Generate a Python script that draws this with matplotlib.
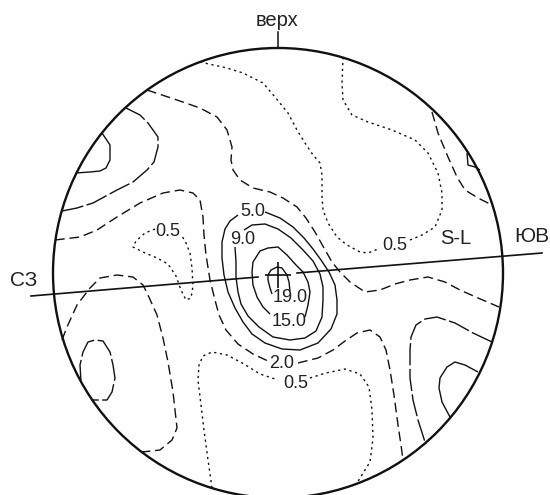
import matplotlib
matplotlib.use("Agg")
import matplotlib.pyplot as plt

plt.rcParams['font.family'] = ['Liberation Sans', 'DejaVu Sans']
plt.rcParams['lines.scale_dashes'] = False

# ---------------- data (net units, primitive circle radius = 225) ----------------
NET_RADIUS = 225

# 19.0 contour
c19_x = [-6, -8, -10, -10, -7, -1, 4, 9, 11, 12]
c19_y = [-21, -15, -7, -2, 3, 6, 5, -2, -9, -18]
# 15.0 contour
c15_x = [-8, -15, -21, -25, -26, -25, -18, -10, 0, 9, 18, 25, 30, 32, 30, 27]
c15_y = [-41, -34, -24, -12, 1, 11, 22, 25, 26, 18, 8, 1, -9, -19, -32, -44]
# 9.0 contour
c9_x = [-43, -42, -42, -40, -37, -30, -19, -5, 12, 27, 38, 44, 45, 45, 42, 35, 25, 13, 0, -13, -26, -34]
c9_y = [26, 11, -4, -19, -31, -43, -54, -64, -67, -65, -58, -44, -27, -14, -1, 12, 23, 35, 44, 49, 48, 43]
# 5.0 contours
c5a_x = [-13, 2, 15, 26, 35, 43, 51, 57, 59, 59, 53, 40, 22, 4, -13, -26, -35, -43, -50, -54, -56, -56, -53, -48, -40]
c5a_y = [61, 55, 46, 35, 24, 13, 1, -12, -27, -41, -56, -70, -77, -76, -70, -61, -49, -35, -19, -2, 15, 31, 44, 52, 58]
c5b_x = [-176, -168, -168, -172, -178, -188, -202]
c5b_y = [140, 128, 113, 105, 102, 101, 100]
c5c_x = [200, 187, 177, 169, 162, 161, 164, 172]
c5c_y = [-99, -92, -89, -94, -105, -115, -129, -144]
c5d_x = [189, 190, 197, 202]
c5d_y = [120, 108, 106, 103]
# intermediate (long-dash) contours
cL1_x = [-152, -138, -130, -120, -120, -124, -131, -145, -161, -185, -201, -216]
cL1_y = [165, 158, 150, 136, 126, 111, 103, 91, 83, 70, 65, 62]
cL2_x = [-197, -198, -195, -190, -183, -175, -168, -165, -163, -166, -171, -180, -187]
cL2_y = [-109, -92, -79, -69, -67, -68, -79, -92, -105, -119, -127, -127, -127]
cL3_x = [214, 195, 177, 159, 147, 138, 133, 132, 132, 135, 140, 147]
cL3_y = [-69, -60, -50, -44, -46, -52, -64, -77, -105, -127, -147, -169]
# 2.0 contours
c2a_x = [-223, -198, -181, -161, -138, -115, -98, -85, -78, -75, -74, -72, -68, -63, -59, -52, -40, -25, -10]
c2a_y = [33, 36, 43, 56, 70, 80, 83, 80, 73, 56, 38, 18, -7, -27, -42, -57, -71, -81, -88]
c2b_x = [20, 40, 55, 67, 79, 92, 102, 108, 112, 116, 120, 123, 125]
c2b_y = [-90, -85, -77, -68, -60, -57, -64, -77, -97, -122, -152, -172, -187]
c2c_x = [-131, -101, -78, -61, -51, -46, -47, -45, -38, -25, -8, 5, 19, 28, 37, 46, 54, 62, 72, 87, 102, 117, 132, 150, 167, 182, 200, 221]
c2c_y = [183, 173, 165, 156, 143, 126, 113, 103, 93, 85, 81, 75, 66, 55, 41, 25, 11, 1, -9, -19, -17, -11, -7, -4, -9, -17, -25, -34]
c2d_x = [-216, -211, -201, -188, -178, -161, -145, -135, -130, -121, -115, -110, -105, -101, -106, -118, -136]
c2d_y = [-67, -54, -32, -15, -5, -2, -4, -12, -22, -42, -65, -89, -119, -155, -167, -177, -179]
c2e_x = [154, 160, 170, 179, 187, 200, 214]
c2e_y = [161, 140, 116, 96, 83, 75, 68]
# 0.5 contours
c05a1_x = [-78, -51, -35, -15, -3, 10, 19, 27, 35, 42, 44, 44, 45, 50, 59, 69, 82, 90, 100]
c05a1_y = [211, 205, 200, 190, 176, 160, 143, 130, 118, 110, 98, 76, 63, 50, 36, 28, 21, 20, 24]
c05a2_x = [132, 144, 157, 164, 164, 160, 150, 137, 114, 90, 74, 65, 64, 65]
c05a2_y = [33, 38, 46, 63, 80, 100, 120, 133, 143, 151, 158, 173, 190, 215]
c05b_x = [-123, -133, -142, -145, -135, -121, -110, -102, -97, -92, -87, -85, -86, -88, -92, -96]
c05b_y = [44, 40, 32, 26, 21, 15, 9, -3, -17, -27, -25, -13, 5, 20, 30, 37]
c05c1_x = [-66, -70, -74, -77, -80, -79, -75, -66, -51, -34, -18, 0]
c05c1_y = [-215, -187, -157, -132, -107, -92, -83, -79, -82, -91, -101, -107]
c05c2_x = [32, 48, 67, 82, 91, 94, 95, 92, 79]
c05c2_y = [-105, -100, -96, -101, -114, -137, -165, -189, -210]

# contour labels
label_texts = ["19.0", "15.0", "9.0", "5.0", "2.0", "0.5", "0.5", "0.5"]
label_x = [12, 11, -35, -25.5, 4, 18, 117, -110]
label_y = [-25, -48, 34, 62, -91, -110, 28, 42]

# S-L trace and pole
sl_left_x = [-247, -20]
sl_left_y = [-23, -4]
sl_right_x = [19, 264]
sl_right_y = [0, 20]
pole_x = [0]
pole_y = [-2]
sl_name = "S-L"

# direction labels
dir_texts = ["верх", "СЗ", "ЮВ"]
dir_x = [-1, -254.5, 254]
dir_y = [253, -8, 37]
top_tick_x = [0, 0]
top_tick_y = [225, 241]

# ---------------- drawing ----------------
INK = '#111111'
styles = {
    "solid": dict(ls="-"),
    "long": dict(ls=(0, (16, 2.5))),
    "dashed": dict(ls=(0, (7, 3.5))),
    "dotted": dict(ls=(0, (1.6, 2.6))),
}
lines = [
    (c19_x, c19_y, "solid"), (c15_x, c15_y, "solid"), (c9_x, c9_y, "solid"),
    (c5a_x, c5a_y, "solid"), (c5b_x, c5b_y, "solid"), (c5c_x, c5c_y, "solid"),
    (c5d_x, c5d_y, "solid"),
    (cL1_x, cL1_y, "long"), (cL2_x, cL2_y, "long"), (cL3_x, cL3_y, "long"),
    (c2a_x, c2a_y, "dashed"), (c2b_x, c2b_y, "dashed"), (c2c_x, c2c_y, "dashed"),
    (c2d_x, c2d_y, "dashed"), (c2e_x, c2e_y, "dashed"),
    (c05a1_x, c05a1_y, "dotted"), (c05a2_x, c05a2_y, "dotted"),
    (c05b_x, c05b_y, "dotted"), (c05c1_x, c05c1_y, "dotted"),
    (c05c2_x, c05c2_y, "dotted"),
]

fig = plt.figure(figsize=(5.5, 4.95), dpi=100)
ax = fig.add_axes([0, 0, 1, 1])
ax.set_xlim(-278, 272)
ax.set_ylim(-222, 273)
ax.set_aspect('equal')
ax.axis('off')

ax.add_patch(plt.Circle((0, 0), NET_RADIUS, fill=False, color=INK, lw=1.7))
ax.plot(top_tick_x, top_tick_y, color=INK, lw=1.1)

for xs, ys, st in lines:
    ax.plot(xs, ys, color=INK, lw=1.0, solid_capstyle='butt',
            dash_capstyle='butt', **styles[st])

ax.plot(sl_left_x, sl_left_y, color=INK, lw=1.2)
ax.plot(sl_right_x, sl_right_y, color=INK, lw=1.2)
ax.plot(pole_x, pole_y, marker='+', ms=19, mew=1.2, color=INK, ls='none')

for t, x, y in zip(label_texts, label_x, label_y):
    ax.text(x, y, t, fontsize=13, ha='center', va='center', color='#222222')

ax.text(178, 34, sl_name, fontsize=14.5, ha='center', va='center', color='#222222')
for t, x, y, fs in zip(dir_texts, dir_x, dir_y, [14.5, 15, 15]):
    ax.text(x, y, t, fontsize=fs, ha='center', va='center', color='#222222')

fig.savefig("out.png", dpi=100, facecolor='white')
